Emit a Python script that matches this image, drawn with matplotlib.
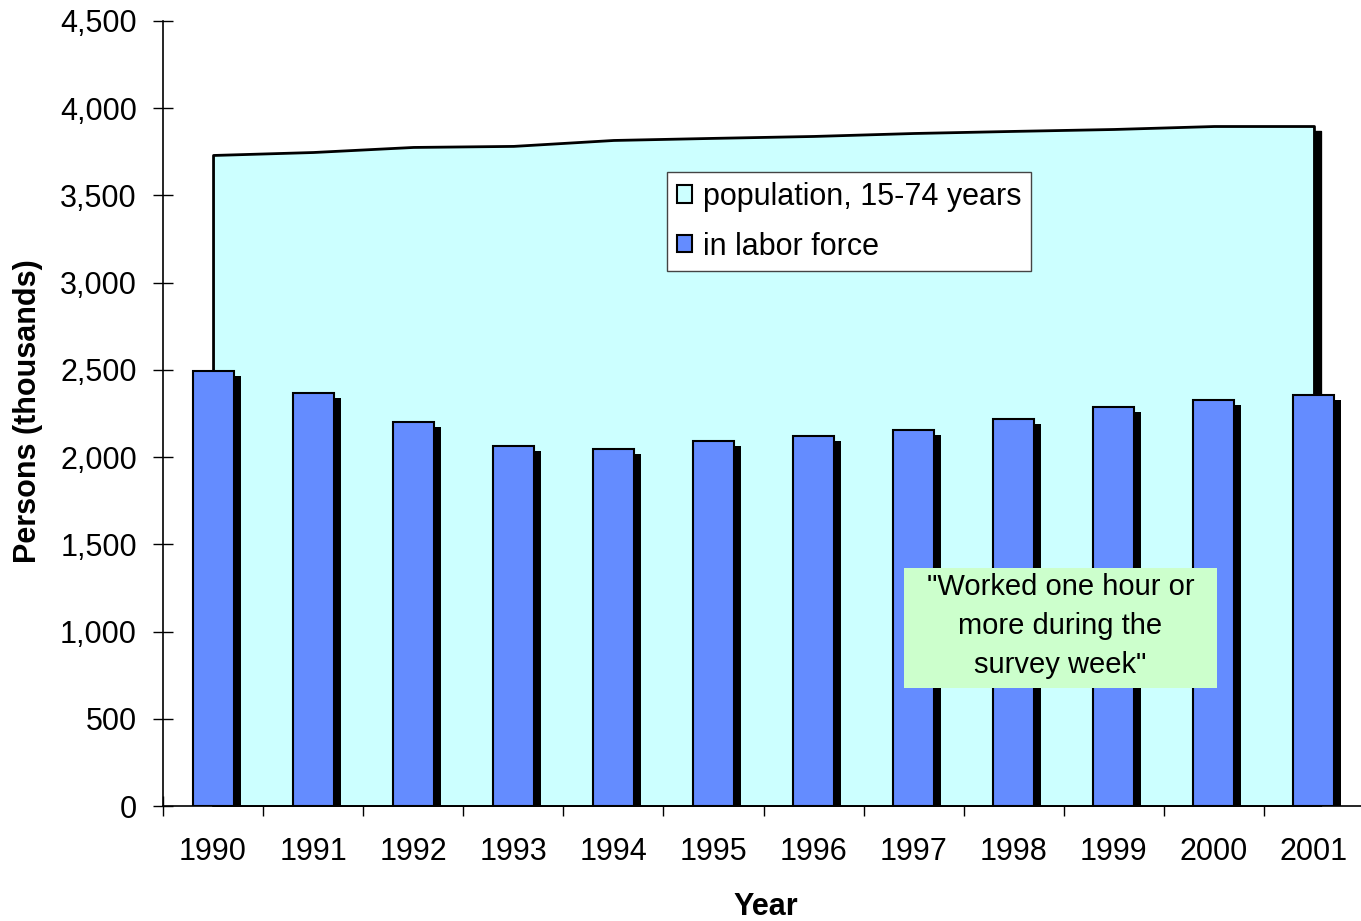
import matplotlib
matplotlib.use("Agg")
import matplotlib.pyplot as plt
import matplotlib.transforms as mtransforms
from matplotlib.patches import Patch, Rectangle
from matplotlib.ticker import FuncFormatter, FixedLocator
import numpy as np

plt.rcParams['font.family'] = ['Liberation Sans', 'DejaVu Sans']

years = ['1990', '1991', '1992', '1993', '1994', '1995', '1996', '1997', '1998', '1999', '2000', '2001']
population = [3732, 3749, 3778, 3784, 3818, 3830, 3841, 3858, 3870, 3881, 3898, 3898]
labor_force = [2494, 2368, 2201, 2064, 2047, 2092, 2121, 2155, 2219, 2287, 2327, 2356]

pop_label = 'population, 15-74 years'
lab_label = 'in labor force'
note_text = '"Worked one hour or\nmore during the\nsurvey week"'

area_color = '#CCFFFF'
bar_color = '#648CFF'
note_color = '#CCFFCC'

fig = plt.figure(figsize=(13.61, 9.21), dpi=100)
ax = fig.add_axes([163/1361, 1 - 806/921, (1361-163)/1361, (806-21)/921])

x = np.arange(len(years))

shadow = mtransforms.ScaledTranslation(7/100, -5/100, fig.dpi_scale_trans)

# area shadow + area
ax.fill_between(x, 0, population, facecolor='black', edgecolor='black', linewidth=1,
                transform=ax.transData + shadow, zorder=1)
ax.fill_between(x, 0, population, facecolor=area_color, edgecolor='black', linewidth=2, zorder=2)

# bar shadows + bars
ax.bar(x, labor_force, width=0.41, color='black', linewidth=0,
       transform=ax.transData + shadow, zorder=3)
ax.bar(x, labor_force, width=0.41, color=bar_color, edgecolor='black', linewidth=1.5, zorder=4)

ax.set_xlim(-0.5, 11.47)
ax.set_ylim(0, 4500)

ax.set_yticks(np.arange(0, 4501, 500))
ax.yaxis.set_major_formatter(FuncFormatter(lambda v, p: f'{int(v):,}'))
ax.tick_params(axis='y', direction='inout', length=13.7, width=1, pad=12, labelsize=22)

ax.set_xticks(x)
ax.set_xticklabels(years)
ax.xaxis.set_minor_locator(FixedLocator(np.arange(-0.5, 12, 1)))
ax.tick_params(axis='x', which='major', length=0, pad=22, labelsize=22)
ax.tick_params(axis='x', which='minor', direction='inout', length=13.7, width=1)

for s in ['top', 'right']:
    ax.spines[s].set_visible(False)
for s in ['left', 'bottom']:
    ax.spines[s].set_linewidth(1.2)
    ax.spines[s].set_zorder(6)

ax.set_ylabel('Persons (thousands)', fontsize=22, fontweight='bold')
ax.yaxis.set_label_coords(-0.1005, 0.503)
ax.set_xlabel('Year', fontsize=22, fontweight='bold')
ax.xaxis.set_label_coords(0.503, -0.110)

handles = [Patch(facecolor=area_color, edgecolor='black', linewidth=1.5),
           Patch(facecolor=bar_color, edgecolor='black', linewidth=1.5)]
leg = ax.legend(handles, [pop_label, lab_label], loc='upper left',
                bbox_to_anchor=((667-163)/1198, (806-172)/785), borderaxespad=0,
                fontsize=22, handlelength=0.5, handleheight=0.5, handletextpad=0.35,
                labelspacing=0.65, borderpad=0.32, fancybox=False, framealpha=1,
                edgecolor='#444444')
leg.get_frame().set_linewidth(1)
leg.set_zorder(7)

ax.add_patch(Rectangle(((904-163)/1198, (806-688)/785), (1217-904)/1198, (688-568)/785,
                       transform=ax.transAxes, facecolor=note_color, edgecolor='none', zorder=7))
ax.text((1060.5-163)/1198, (806-626)/785, note_text, transform=ax.transAxes,
        ha='center', va='center', fontsize=21, linespacing=1.5, zorder=8)

fig.savefig('out.png', dpi=100)
